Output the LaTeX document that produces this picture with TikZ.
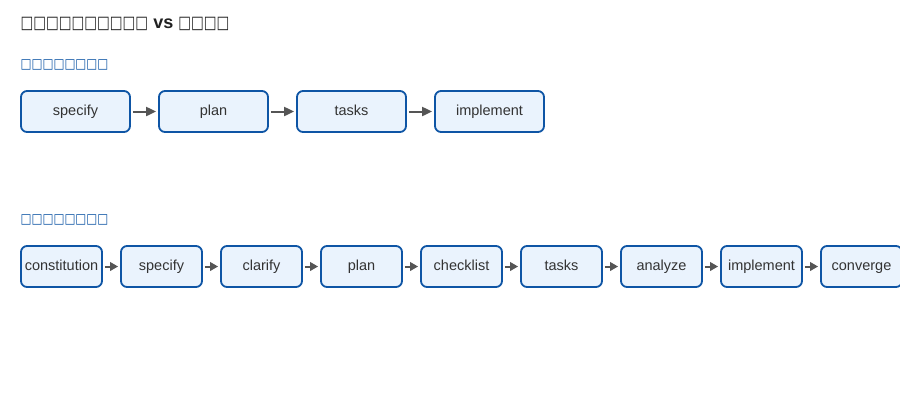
\documentclass[tikz,border=0pt]{standalone}
\usepackage{fontspec}
\setmainfont{Liberation Sans}
\newfontfamily\boxfont{DejaVu Sans}
\usepackage{xcolor}
\usepackage{graphicx}
\usetikzlibrary{arrows.meta,positioning}
\definecolor{primary}{HTML}{0E55A5}
\definecolor{accent}{HTML}{EAF3FD}
\definecolor{ink}{HTML}{333333}
\definecolor{arrowgrey}{HTML}{555555}
% glyph stretched to the tall box the reference shows
\newcommand{\tofu}[1]{\scalebox{1}[#1]{□}}

\begin{document}
\begin{tikzpicture}[x=1pt,y=-1pt,
  stepA/.style={rectangle, draw=primary, fill=accent, rounded corners=6pt, minimum width=109pt, minimum height=41pt, line width=1.8pt, text=ink, font=\fontsize{14.5}{17}\selectfont, inner sep=0pt, text height=10pt, text depth=3pt},
  stepB/.style={stepA, minimum width=81pt},
  rel/.style={-{Triangle[length=10pt,width=9pt]}, arrowgrey, line width=2pt, shorten <=2pt, shorten >=2pt},
  relB/.style={rel, -{Triangle[length=8pt,width=8.5pt]}},
  ttl/.style={anchor=base west, inner sep=0pt, text=black!87, font=\bfseries\fontsize{18}{20}\selectfont},
  sect/.style={anchor=base west, inner sep=0pt, text=primary, font=\boxfont\bfseries\fontsize{11.6}{14}\selectfont}
]
\useasboundingbox[fill=white] (0,0) rectangle (900,400);

\node[ttl] (title) at (20.5,28) {{\boxfont\fontsize{13.5}{16}\selectfont\tofu{1.3}\tofu{1.3}\tofu{1.3}\tofu{1.3}\tofu{1.3}\tofu{1.3}\tofu{1.3}\tofu{1.3}\tofu{1.3}\tofu{1.3}} vs {\boxfont\fontsize{13.5}{16}\selectfont\tofu{1.3}\tofu{1.3}\tofu{1.3}\tofu{1.3}}};
\node[sect] (lblA) at (20.5,68) {\tofu{1.18}\tofu{1.18}\tofu{1.18}\tofu{1.18}\tofu{1.18}\tofu{1.18}\tofu{1.18}\tofu{1.18}};
\node[sect] (lblB) at (20.5,223) {\tofu{1.18}\tofu{1.18}\tofu{1.18}\tofu{1.18}\tofu{1.18}\tofu{1.18}\tofu{1.18}\tofu{1.18}};

% first flow
\node[stepA] (specifyA) at (75.5,111.5) {specify};
\node[stepA] (planA) at (213.5,111.5) {plan};
\node[stepA] (tasksA) at (351.5,111.5) {tasks};
\node[stepA] (implementA) at (489.5,111.5) {implement};

\draw[rel] (specifyA) -- (planA);
\draw[rel] (planA) -- (tasksA);
\draw[rel] (tasksA) -- (implementA);

% second flow
\node[stepB] (constitutionB) at (61.5,266.5) {constitution};
\node[stepB] (specifyB) at (161.5,266.5) {specify};
\node[stepB] (clarifyB) at (261.5,266.5) {clarify};
\node[stepB] (planB) at (361.5,266.5) {plan};
\node[stepB] (checklistB) at (461.5,266.5) {checklist};
\node[stepB] (tasksB) at (561.5,266.5) {tasks};
\node[stepB] (analyzeB) at (661.5,266.5) {analyze};
\node[stepB] (implementB) at (761.5,266.5) {implement};
\node[stepB] (convergeB) at (861.5,266.5) {converge};

\draw[relB] (constitutionB) -- (specifyB);
\draw[relB] (specifyB) -- (clarifyB);
\draw[relB] (clarifyB) -- (planB);
\draw[relB] (planB) -- (checklistB);
\draw[relB] (checklistB) -- (tasksB);
\draw[relB] (tasksB) -- (analyzeB);
\draw[relB] (analyzeB) -- (implementB);
\draw[relB] (implementB) -- (convergeB);
\end{tikzpicture}
\end{document}
